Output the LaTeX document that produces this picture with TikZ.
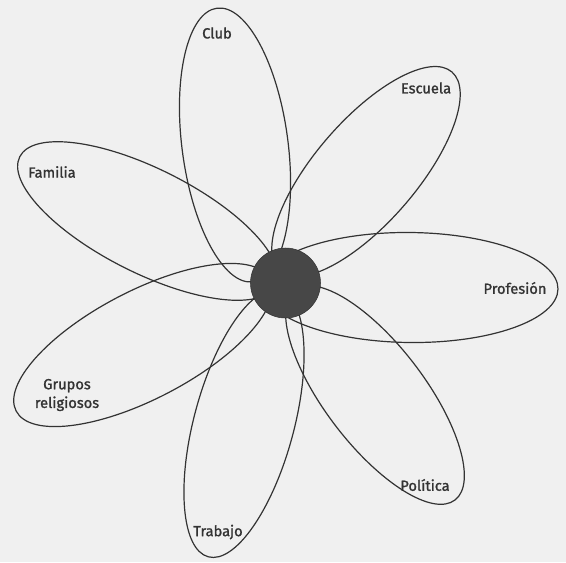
\documentclass[tikz,border=0pt]{standalone}
\usepackage{fontspec}
\setmainfont{Fira Sans}
\newfontfamily\tagfont{Fira Sans}[FakeBold=1.3]
\usepackage{xcolor}
\usepackage{tikz}

\begin{document}
\begin{tikzpicture}[x=0.75pt, y=0.75pt,
    petal/.style={draw=black!80, line width=0.9pt},
    tag/.style={font=\tagfont\fontsize{11}{14}\selectfont, text=black!80, align=center, inner sep=0pt}]
    % Canvas
    \fill[black!6] (-285,-279) rectangle (281,283);
    \useasboundingbox (-285,-279) rectangle (281,283);

    % Petal centres
    \coordinate (cClub) at (-50,138);
    \coordinate (cEscuela) at (81,111.5);
    \coordinate (cProfesion) at (125,-4.5);
    \coordinate (cPolitica) at (90,-112);
    \coordinate (cTrabajo) at (-41,-140.5);
    \coordinate (cGrupos) at (-142,-62);
    \coordinate (cFamilia) at (-137.5,62);

    % Petals
    \draw[petal, rotate around={97.5:(cClub)}] (cClub) ellipse (138 and 53);
    \draw[petal, rotate around={49.2:(cEscuela)}] (cEscuela) ellipse (131.5 and 51);
    \draw[petal, rotate around={-0.6:(cProfesion)}] (cProfesion) ellipse (148 and 55);
    \draw[petal, rotate around={-52.7:(cPolitica)}] (cPolitica) ellipse (132 and 50);
    \draw[petal, rotate around={-105:(cTrabajo)}] (cTrabajo) ellipse (138 and 50);
    \draw[petal, rotate around={207.5:(cGrupos)}] (cGrupos) ellipse (143 and 54);
    \draw[petal, rotate around={153.3:(cFamilia)}] (cFamilia) ellipse (143 and 52);

    % Centre
    \node (persona) [circle, draw=black!80, fill=black!72, minimum size=70*0.75pt, inner sep=0pt] at (0.5,0) {};

    % Labels
    \node (club) [tag] at (-68,250) {Club};
    \node (escuela) [tag] at (141,195) {Escuela};
    \node (familia) [tag] at (-233,111) {Familia};
    \node (profesion) [tag] at (230,-5) {Profesión};
    \node (grupos) [tag] at (-218,-112) {Grupos\\religiosos};
    \node (politica) [tag] at (140,-202) {Política};
    \node (trabajo) [tag] at (-67,-249) {Trabajo};
\end{tikzpicture}
\end{document}
